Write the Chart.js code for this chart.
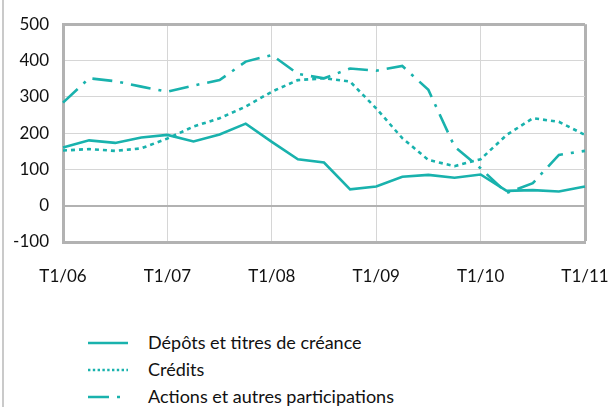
<!DOCTYPE html>
<html>
<head>
<meta charset="utf-8">
<script src="https://cdn.jsdelivr.net/npm/chart.js@4/dist/chart.umd.min.js"></script>
<style>
  html, body { margin: 0; padding: 0; background: #fff; }
  #wrap { position: relative; width: 608px; height: 407px; overflow: hidden; font-family: Lato, "Open Sans", sans-serif; }
  #frame { position: absolute; left: 2px; top: 0; width: 2px; height: 407px; background: #cacaca; }
  #chart-box { position: absolute; left: 0; top: 0; width: 608px; height: 284px; }
  #legend { position: absolute; left: 88px; top: 329px; }
  .item { display: flex; align-items: center; height: 27px; }
  .item svg { width: 40px; height: 6px; margin-right: 20px; }
  .item span { font-size: 18px; color: #111; line-height: 27px; }
</style>
</head>
<body>
<div id="wrap">
  <div id="frame"></div>
  <div id="chart-box"><canvas id="flows"></canvas></div>
  <div id="legend"></div>
</div>
<script>
document.addEventListener('DOMContentLoaded', () => {
    // quarters T1/06 .. T1/11
    const years = ['06', '07', '08', '09', '10', '11'];
    const quarters = [];
    years.forEach((y, i) => {
        for (let q = 1; q <= 4; q++) {
            if (i === years.length - 1 && q > 1) break;
            quarters.push('T' + q + '/' + y);
        }
    });

    const depots  = [160, 180, 173, 188, 195, 177, 196, 226, 176, 128, 119, 45, 53, 80, 85, 77, 86, 41, 43, 39, 53];
    const credits = [152, 156, 151, 158, 185, 218, 241, 273, 314, 346, 351, 342, 268, 186, 126, 109, 128, 195, 241, 231, 195];
    const actions = [284, 351, 343, 328, 314, 331, 346, 397, 415, 363, 351, 378, 372, 385, 319, 163, 103, 35, 62, 140, 151];
    const yTicks = [-100, 0, 100, 200, 300, 400, 500];

    const teal = '#19b2ad';
    const gridGrey = '#d6d6d6';
    const frameGrey = '#b2b2b2';

    const series = [
        { label: 'Dépôts et titres de créance', data: depots, dash: [], legendDash: 'none' },
        { label: 'Crédits', data: credits, dash: [4, 4], legendDash: '2.4 2.4' },
        { label: 'Actions et autres participations', data: actions, dash: [20, 8, 3, 8], legendDash: '21 8 3 8' }
    ];

    const ctx = document.getElementById('flows').getContext('2d');
    new Chart(ctx, {
        type: 'line',
        data: {
            labels: quarters,
            datasets: series.map(s => ({
                label: s.label,
                data: s.data,
                borderColor: teal,
                backgroundColor: teal,
                borderWidth: 2.6,
                borderDash: s.dash,
                borderCapStyle: 'butt',
                pointRadius: 0,
                tension: 0,
                fill: false
            }))
        },
        options: {
            responsive: true,
            maintainAspectRatio: false,
            animation: false,
            layout: { padding: { left: 0, top: 24, right: 0, bottom: 0 } },
            plugins: {
                legend: { display: false },
                tooltip: { enabled: false }
            },
            scales: {
                x: {
                    offset: false,
                    afterFit: (scale) => {
                        scale.height = 42;
                        // tick padding is otherwise added to the side padding too
                        scale.paddingLeft = 0;
                        scale.paddingRight = 23;
                    },
                    border: { color: frameGrey, width: 3 },
                    grid: {
                        drawTicks: false,
                        color: (c) => c.index === quarters.length - 1 ? frameGrey : (c.index % 4 === 0 ? gridGrey : 'transparent'),
                        lineWidth: (c) => c.index === quarters.length - 1 ? 3 : 1
                    },
                    ticks: {
                        autoSkip: false,
                        maxRotation: 0,
                        padding: 24,
                        color: '#111',
                        font: { family: 'Lato', size: 17 },
                        callback: function (val, i) {
                            return i % 4 === 0 ? quarters[i] : '';
                        }
                    }
                },
                y: {
                    min: yTicks[0],
                    max: yTicks[yTicks.length - 1],
                    afterFit: (scale) => { scale.width = 63; },
                    afterBuildTicks: (scale) => { scale.ticks = yTicks.map(v => ({ value: v })); },
                    border: { color: frameGrey, width: 3 },
                    grid: {
                        drawTicks: false,
                        color: (c) => (c.tick.value === 0 || c.tick.value === 500) ? frameGrey : gridGrey,
                        lineWidth: (c) => c.tick.value === 500 ? 3 : (c.tick.value === 0 ? 2 : 1)
                    },
                    ticks: {
                        padding: 14,
                        color: '#111',
                        font: { family: 'Lato', size: 17 }
                    }
                }
            }
        }
    });

    // legend below the plot
    const legend = document.getElementById('legend');
    series.forEach(s => {
        const row = document.createElement('div');
        row.className = 'item';
        row.innerHTML = `<svg viewBox="0 0 40 6"><line x1="0" y1="3" x2="40" y2="3" stroke="${teal}" stroke-width="2.6" stroke-dasharray="${s.legendDash}"/></svg><span>${s.label}</span>`;
        legend.appendChild(row);
    });
});
</script>
</body>
</html>
